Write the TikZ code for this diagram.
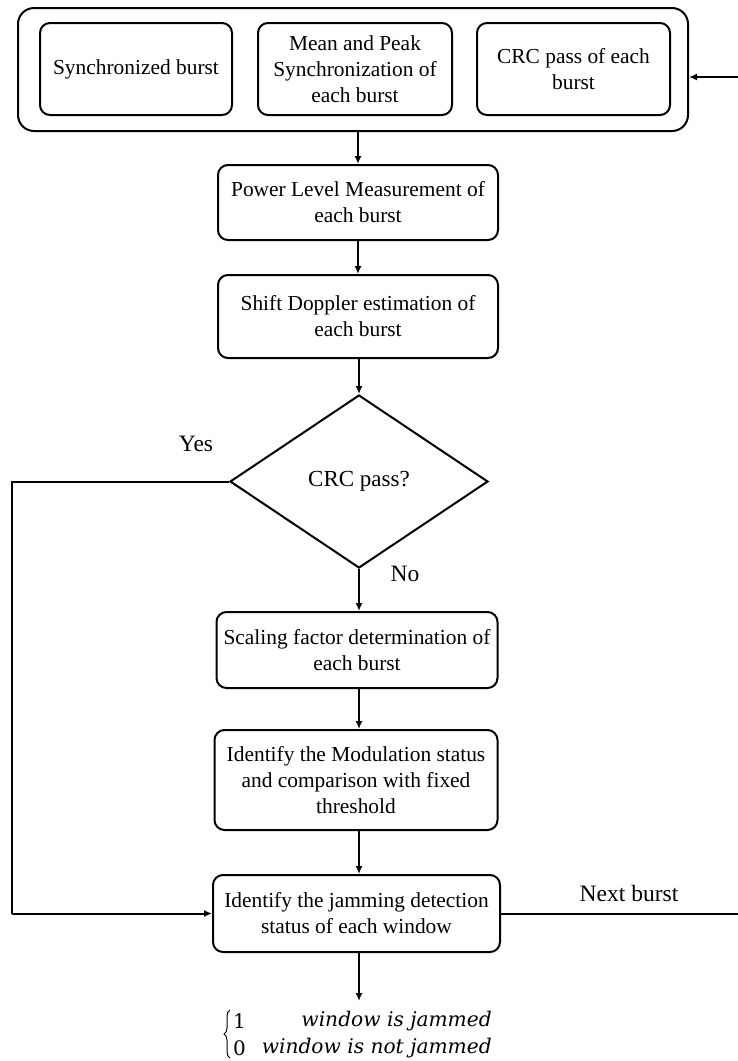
\documentclass[tikz,border=0pt]{standalone}
\usepackage{fontspec}
\setmainfont{Liberation Serif}
\newfontfamily\resfont{DejaVu Serif}
\usetikzlibrary{arrows.meta,shapes.geometric,decorations.pathreplacing}
\begin{document}
\begin{tikzpicture}[x=1pt,y=-1pt,
  box/.style={draw,line width=2pt,rounded corners=10pt,align=center,font=\fontsize{21.4}{26}\selectfont,inner sep=0pt},
  conn/.style={line width=2pt,-{Latex[length=8pt,width=7pt]}},
  plain/.style={line width=2pt},
  lbl/.style={font=\fontsize{23.5}{26}\selectfont,inner sep=0pt},
  res/.style={font=\resfont\itshape\fontsize{20.2}{22}\selectfont,inner sep=0pt},
  dig/.style={font=\resfont\fontsize{20}{22}\selectfont,inner sep=0pt}]
\useasboundingbox (0,0) rectangle (738,1061);
\node[draw,line width=2pt,rounded corners=16pt,minimum width=670pt,minimum height=123pt] (outer) at (353,69.5) {};
\node[box,minimum width=192pt,minimum height=92pt] (b1) at (136,69) {Synchronized burst};
\node[box,minimum width=194pt,minimum height=92pt] (b2) at (355,69) {Mean and Peak\\Synchronization of\\each burst};
\node[box,minimum width=193pt,minimum height=92pt] (b3) at (573.5,69) {CRC pass of each\\burst};
\node[box,minimum width=280pt,minimum height=75pt] (pow) at (358,202.5) {Power Level Measurement of\\each burst};
\node[box,minimum width=280pt,minimum height=83pt] (dop) at (358,316.5) {Shift Doppler estimation of\\each burst};
\node[diamond,draw,line width=2pt,minimum width=258pt,minimum height=173pt,inner sep=0pt,aspect=1.5,font=\fontsize{23}{26}\selectfont] (crc) at (359,481.5) {CRC pass?};
\node[box,minimum width=281pt,minimum height=76pt] (scl) at (357,650) {Scaling factor determination of\\each burst};
\node[box,minimum width=283pt,minimum height=100pt] (mod) at (356,780) {Identify the Modulation status\\and comparison with fixed\\threshold};
\node[box,minimum width=287pt,minimum height=77pt] (jam) at (356.5,913.5) {Identify the jamming detection\\status of each window};
\node[lbl] (yes) at (196,444) {Yes};
\node[lbl] (no) at (405,574) {No};
\node[lbl] (next) at (629,893) {Next burst};
\coordinate (rtop) at (738,77);
\coordinate (rbot) at (738,913.5);
\coordinate (yl1) at (12,481.5);
\coordinate (yl2) at (12,913.5);
\coordinate (out) at (358,1001);
\draw[conn] (rtop) -- (outer.east |- rtop);
\draw[conn] (outer.south -| pow.north) -- (pow.north);
\draw[conn] (pow) -- (dop);
\draw[conn] (dop.south -| crc.north) -- (crc.north);
\draw[conn] (crc.south) -- (scl.north -| crc.south);
\draw[conn] (scl.south -| crc.south) -- (mod.north -| crc.south);
\draw[conn] (mod.south -| crc.south) -- (jam.north -| crc.south);
\draw[plain] (crc.west) -- (yl1) -- (yl2);
\draw[conn] (yl2) -- (jam.west);
\draw[plain] (jam.east) -- (rbot);
\draw[conn] (jam.south -| crc.south) -- (out -| crc.south);
\coordinate (bb) at (230,1058);
\coordinate (bt) at (230,1010);
\draw[line width=1pt,decorate,decoration={brace,amplitude=6pt}] (bb) -- (bt);
\node[dig,anchor=west] (d1) at (233,1021) {1};
\node[dig,anchor=west] (d0) at (233,1048) {0};
\node[res,anchor=east] (r1) at (492,1021) {window is jammed};
\node[res,anchor=east] (r0) at (492,1048) {window is not jammed};
\end{tikzpicture}
\end{document}
